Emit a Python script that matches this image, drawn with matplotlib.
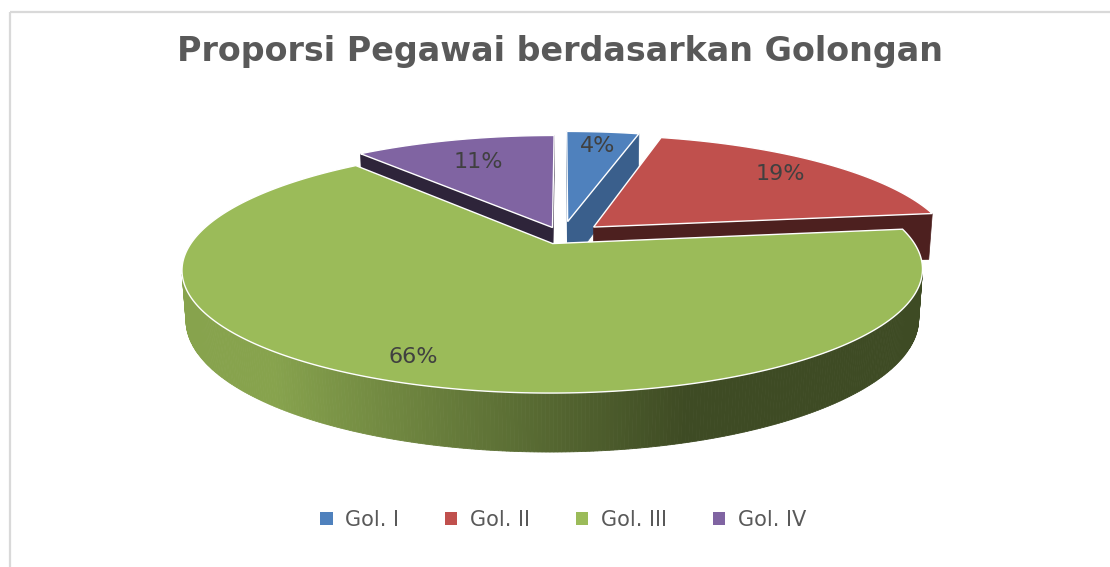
import numpy as np
import matplotlib
matplotlib.use('Agg')
import matplotlib.pyplot as plt
from matplotlib.patches import Polygon, Patch
from matplotlib.colors import to_rgb

# data
categories = ['Gol. I', 'Gol. II', 'Gol. III', 'Gol. IV']
values = [4, 19, 66, 11]
title = 'Proporsi Pegawai berdasarkan Golongan'

# style
colors = ['#4F81BD', '#C0504D', '#9BBB59', '#8064A2']
explode = [0.13, 0.12, 0.07, 0.08]
cut_shade = [0.74, 0.40, 0.45, 0.36]
label_r = [0.82, 0.80, 0.86, 0.72]

# camera for the 3d look (pixels)
CX, CY = 562, 236
FR = 1613
DIST = 4.52
ELEV = np.arcsin(0.321)
THICK = 0.142
CE, SE = np.cos(ELEV), np.sin(ELEV)
CAM_Z = -DIST * CE


def project(x, y, z):
    yc = y * CE + z * SE
    zc = -y * SE + z * CE + DIST
    return CX + FR * x / zc, CY - FR * yc / zc


def shade(rgb, f):
    return tuple(np.clip(np.array(rgb) * f, 0, 1))


def faces_camera(nx, nz, px, pz):
    return nx * (0 - px) + nz * (CAM_Z - pz) > 0


fig = plt.figure(figsize=(11.1, 5.67), dpi=100)
ax = fig.add_axes([0, 0, 1, 1])
ax.set_xlim(0, 1110)
ax.set_ylim(567, 0)
ax.axis('off')

# chart border (top and left only visible)
ax.plot([10, 10], [12, 567], color='#d9d9d9', lw=1.6, solid_capstyle='butt')
ax.plot([10, 1110], [12, 12], color='#d9d9d9', lw=1.6, solid_capstyle='butt')

total = float(sum(values))
fracs = np.array(values) / total
ends = np.cumsum(fracs) * 2 * np.pi
starts = ends - fracs * 2 * np.pi
mids = (starts + ends) / 2

# back slices first
order = np.argsort(-np.cos(mids))

for i in order:
    t1, t2, m = starts[i], ends[i], mids[i]
    ox, oz = explode[i] * np.sin(m), explode[i] * np.cos(m)
    base = to_rgb(colors[i])
    th = np.linspace(t1, t2, max(int(np.degrees(t2 - t1) * 2), 4))
    rx, rz = ox + np.sin(th), oz + np.cos(th)

    # radial cut faces
    for ang, sgn in ((t1, -1), (t2, 1)):
        nx, nz = sgn * np.cos(ang), -sgn * np.sin(ang)
        px, pz = ox + 0.5 * np.sin(ang), oz + 0.5 * np.cos(ang)
        if faces_camera(nx, nz, px, pz):
            qx = [ox, ox + np.sin(ang), ox + np.sin(ang), ox]
            qz = [oz, oz + np.cos(ang), oz + np.cos(ang), oz]
            qy = [0, 0, -THICK, -THICK]
            sx, sy = project(np.array(qx), np.array(qy), np.array(qz))
            col = shade(base, cut_shade[i])
            ax.add_patch(Polygon(np.column_stack([sx, sy]), closed=True,
                                 fc=col, ec=col, lw=0.5))

    # outer rim, lighter on the left, dark on the right
    for k in range(len(th) - 1):
        a = (th[k] + th[k + 1]) / 2
        if not faces_camera(np.sin(a), np.cos(a), ox + np.sin(a), oz + np.cos(a)):
            continue
        qx = np.array([rx[k], rx[k + 1], rx[k + 1], rx[k]])
        qz = np.array([rz[k], rz[k + 1], rz[k + 1], rz[k]])
        qy = np.array([0, 0, -THICK, -THICK])
        sx, sy = project(qx, qy, qz)
        f = np.clip(0.55 - 0.5 * np.sin(a), 0.40, 0.87)
        col = shade(base, f)
        ax.add_patch(Polygon(np.column_stack([sx, sy]), closed=True,
                             fc=col, ec=col, lw=0.6))

    # top face
    tx = np.concatenate([[ox], rx])
    tz = np.concatenate([[oz], rz])
    sx, sy = project(tx, np.zeros_like(tx), tz)
    ax.add_patch(Polygon(np.column_stack([sx, sy]), closed=True,
                         fc=base, ec='white', lw=1.0))

# percentage labels
for i in range(len(values)):
    m = mids[i]
    r = label_r[i]
    lx = explode[i] * np.sin(m) + r * np.sin(m)
    lz = explode[i] * np.cos(m) + r * np.cos(m)
    px, py = project(lx, 0.0, lz)
    ax.text(px, py, f'{fracs[i] * 100:.0f}%', ha='center', va='center',
            fontsize=16, color='#404040', family='DejaVu Sans')

ax.text(560, 52, title, ha='center', va='center', fontsize=24,
        fontweight='bold', color='#595959', family='DejaVu Sans')

handles = [Patch(facecolor=c, edgecolor='none', label=l)
           for c, l in zip(colors, categories)]
ax.legend(handles=handles, loc='center', bbox_to_anchor=(563 / 1110, 1 - 520 / 567),
          ncol=4, frameon=False, labelcolor='#595959',
          handlelength=0.6, handleheight=0.6, handletextpad=0.6,
          columnspacing=2.2, prop={'family': 'DejaVu Sans', 'size': 15})

fig.savefig('out.png', dpi=100)
